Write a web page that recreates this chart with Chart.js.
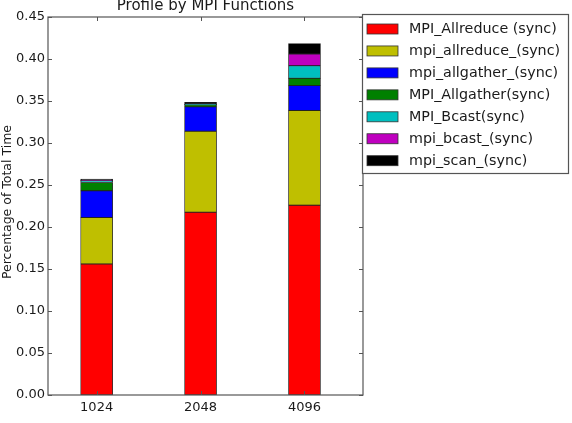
<!DOCTYPE html>
<html>
<head>
<meta charset="utf-8">
<script src="https://cdn.jsdelivr.net/npm/chart.js@4.4.1/dist/chart.umd.min.js"></script>
<style>
  html, body { margin: 0; padding: 0; background: #fff; }
  #wrap { width: 572px; height: 423px; }
</style>
</head>
<body>
<div id="wrap"><canvas id="mpiChart" width="572" height="423"></canvas></div>
<script>
// processor counts on the x axis
const categories = ['1024', '2048', '4096'];
const yTicks = [0, 0.05, 0.10, 0.15, 0.20, 0.25, 0.30, 0.35, 0.40, 0.45];

// fraction of total time per MPI call (stacked bottom to top)
const seriesNames = [
    'MPI_Allreduce (sync)', 'mpi_allreduce_(sync)', 'mpi_allgather_(sync)',
    'MPI_Allgather(sync)', 'MPI_Bcast(sync)', 'mpi_bcast_(sync)', 'mpi_scan_(sync)'
];
const allreduceSync = [0.156, 0.2176, 0.226];
const allreduceF = [0.0554, 0.0964, 0.1126];
const allgatherF = [0.0317, 0.029, 0.0297];
const allgatherSync = [0.0099, 0.0025, 0.0087];
const bcastSync = [0.002, 0.0005, 0.015];
const bcastF = [0.0003, 0.0002, 0.014];
const scanF = [0.0017, 0.0022, 0.0123];

const seriesValues = [allreduceSync, allreduceF, allgatherF, allgatherSync, bcastSync, bcastF, scanF];
const colors = ['#ff0000', '#bfbf00', '#0000ff', '#008000', '#00bfbf', '#bf00bf', '#000000'];

const FONT = 'DejaVu Sans';
const TEXT = '#1a1a1a';
const SPINE = '#555555';

// spines, inward ticks, title, y label and the framed legend (matplotlib look)
const decorations = {
    id: 'decorations',
    afterDraw(chart) {
        const ctx = chart.ctx;
        const a = chart.chartArea;
        const xs = chart.scales.x;
        const ys = chart.scales.y;
        ctx.save();

        ctx.strokeStyle = SPINE;
        ctx.lineWidth = 1.2;
        ctx.strokeRect(a.left, a.top, a.right - a.left, a.bottom - a.top);

        ctx.lineWidth = 1;
        ctx.beginPath();
        yTicks.forEach(v => {
            const y = Math.round(ys.getPixelForValue(v)) + 0.5;
            ctx.moveTo(a.left, y); ctx.lineTo(a.left + 4, y);
            ctx.moveTo(a.right, y); ctx.lineTo(a.right - 4, y);
        });
        categories.forEach((c, i) => {
            const x = Math.round(xs.getPixelForValue(i)) + 0.5;
            ctx.moveTo(x, a.top); ctx.lineTo(x, a.top + 4);
            ctx.moveTo(x, a.bottom); ctx.lineTo(x, a.bottom - 4);
        });
        ctx.stroke();

        // title (partly cut off at the top, as in the original)
        ctx.fillStyle = TEXT;
        ctx.font = '15px "' + FONT + '"';
        ctx.textAlign = 'center';
        ctx.textBaseline = 'alphabetic';
        ctx.fillText('Profile by MPI Functions', (a.left + a.right) / 2, 9.5);

        // y axis label
        ctx.save();
        ctx.translate(11, 202);
        ctx.rotate(-Math.PI / 2);
        ctx.font = '12.5px "' + FONT + '"';
        ctx.textBaseline = 'alphabetic';
        ctx.fillText('Percentage of Total Time', 0, 0);
        ctx.restore();

        // legend
        const lx = 362, ly = 14, lw = 206, lh = 159;
        ctx.fillStyle = '#ffffff';
        ctx.fillRect(lx, ly, lw, lh);
        ctx.strokeStyle = SPINE;
        ctx.lineWidth = 1.2;
        ctx.strokeRect(lx + 0.5, ly + 0.5, lw, lh);
        ctx.font = '14.3px "' + FONT + '"';
        ctx.textAlign = 'left';
        ctx.textBaseline = 'middle';
        seriesNames.forEach((name, i) => {
            const cy = 29 + i * 21.95;
            ctx.fillStyle = colors[i];
            ctx.fillRect(367, cy - 5, 31, 10);
            ctx.strokeStyle = '#333';
            ctx.lineWidth = 0.8;
            ctx.strokeRect(367, cy - 5, 31, 10);
            ctx.fillStyle = TEXT;
            ctx.fillText(name, 409, cy + 0.5);
        });
        ctx.restore();
    }
};

const datasets = seriesNames.map((name, s) => ({
    label: name,
    data: seriesValues[s].map((v, i) => ({ x: i, y: v })),
    backgroundColor: colors[s],
    borderColor: '#222222',
    borderWidth: 0.8,
    borderSkipped: false,
    barThickness: 32
}));

new Chart(document.getElementById('mpiChart').getContext('2d'), {
    type: 'bar',
    data: { datasets: datasets },
    plugins: [decorations],
    options: {
        responsive: false,
        animation: false,
        devicePixelRatio: 1,
        layout: { padding: { top: 17, right: 209, left: 0, bottom: 0 } },
        plugins: {
            legend: { display: false },
            tooltip: { enabled: false }
        },
        scales: {
            x: {
                type: 'linear',
                stacked: true,
                offset: false,
                min: -0.468,
                max: 2.563,
                afterBuildTicks: s => { s.ticks = categories.map((c, i) => ({ value: i })); },
                afterFit: s => { s.height = 28; },
                grid: { display: false, drawTicks: false },
                border: { display: false },
                ticks: {
                    callback: v => categories[v],
                    font: { family: FONT, size: 13 },
                    color: TEXT,
                    padding: 5,
                    maxRotation: 0
                }
            },
            y: {
                stacked: true,
                min: 0,
                max: 0.45,
                afterBuildTicks: s => { s.ticks = yTicks.map(v => ({ value: v })); },
                afterFit: s => { s.width = 48; },
                grid: { display: false, drawTicks: false },
                border: { display: false },
                ticks: {
                    callback: v => v.toFixed(2),
                    font: { family: FONT, size: 13 },
                    color: TEXT,
                    padding: 3
                }
            }
        }
    }
});
</script>
</body>
</html>
